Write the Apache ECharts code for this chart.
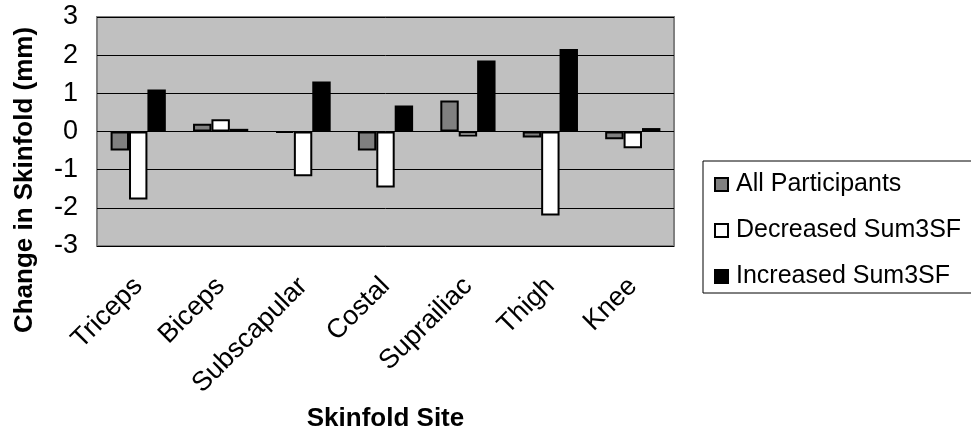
<!DOCTYPE html>
<html>
<head>
<meta charset="utf-8">
<script src="https://cdn.jsdelivr.net/npm/echarts@6/dist/echarts.min.js"></script>
<style>html,body{margin:0;padding:0;background:#fff;}#c{width:971px;height:437px;}</style>
</head>
<body>
<div id="c"></div>
<script>
var categories = ['Triceps', 'Biceps', 'Subscapular', 'Costal', 'Suprailiac', 'Thigh', 'Knee'];
var seriesNames = ['All Participants', 'Decreased Sum3SF', 'Increased Sum3SF'];
var allParticipants = [-0.50, 0.20, -0.03, -0.50, 0.81, -0.16, -0.20];
var decreasedSum3SF = [-1.78, 0.32, -1.17, -1.47, -0.13, -2.20, -0.44];
var increasedSum3SF = [1.10, 0.07, 1.31, 0.68, 1.86, 2.16, 0.09];
var yTitle = 'Change in Skinfold (mm)';
var xTitle = 'Skinfold Site';

var FONT = '"Liberation Sans", Arial, sans-serif';
var chart = echarts.init(document.getElementById('c'), null, {renderer: 'canvas'});
function barSeries(name, data, color) {
  return {
    name: name, type: 'bar', data: data,
    barGap: '0%', barCategoryGap: '33%',
    itemStyle: {color: color, borderColor: '#000', borderWidth: 2},
    emphasis: {disabled: true}, animation: false
  };
}
chart.setOption({
  animation: false,
  textStyle: {fontFamily: FONT},
  grid: {left: 97, right: 297, top: 17, bottom: 190, show: true,
         backgroundColor: '#c0c0c0', borderColor: '#808080', borderWidth: 2},
  legend: {
    orient: 'vertical', left: 703, top: 161,
    data: seriesNames,
    icon: 'rect', itemWidth: 13, itemHeight: 13, itemGap: 21,
    borderColor: '#000', borderWidth: 1,
    padding: [11, 40, 4, 11],
    textStyle: {fontFamily: FONT, fontSize: 25, color: '#000', padding: [0, 0, 0, 3]}
  },
  xAxis: {
    type: 'category', data: categories,
    axisLine: {show: false, onZero: false}, axisTick: {show: false},
    axisLabel: {rotate: 45, fontSize: 27, color: '#000', margin: 36, fontFamily: FONT, interval: 0},
    name: xTitle, nameLocation: 'middle', nameGap: 160,
    nameTextStyle: {fontSize: 26, fontWeight: 'bold', color: '#000', fontFamily: FONT}
  },
  yAxis: {
    type: 'value', min: -3, max: 3, interval: 1,
    axisLine: {show: false}, axisTick: {show: false},
    splitLine: {show: true, lineStyle: {color: '#000', width: 1}},
    axisLabel: {fontSize: 27, color: '#000', margin: 19, fontFamily: FONT}
  },
  graphic: [{
    type: 'text', x: 25, y: 180, rotation: Math.PI / 2,
    style: {text: yTitle, fontSize: 26, fontWeight: 'bold', fill: '#000', fontFamily: FONT,
            textAlign: 'center', textVerticalAlign: 'middle'}
  }],
  series: [
    barSeries(seriesNames[0], allParticipants, '#808080'),
    barSeries(seriesNames[1], decreasedSum3SF, '#ffffff'),
    barSeries(seriesNames[2], increasedSum3SF, '#000000')
  ]
});
</script>
</body>
</html>
